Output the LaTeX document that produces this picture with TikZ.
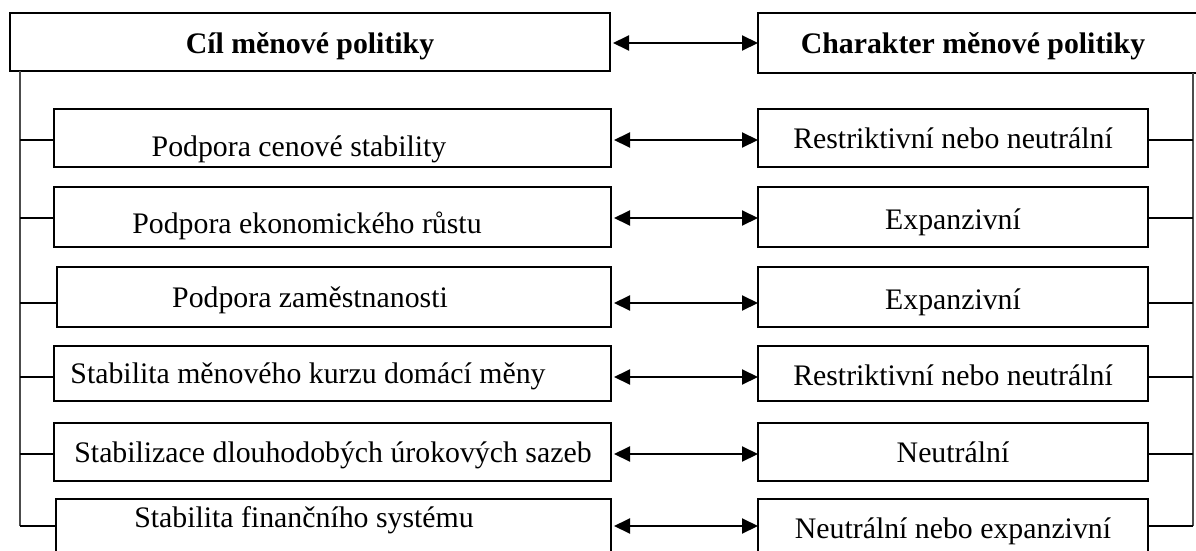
\documentclass[tikz,border=0pt]{standalone}
\usepackage{fontspec}
\setmainfont{Liberation Serif}
\usetikzlibrary{arrows.meta}

\tikzset{
	box/.style={draw, line width=1.2pt, inner sep=0pt, outer sep=0pt},
	tick/.style={line width=1.4pt},
	bracket/.style={draw=black!70, line width=1.3pt},
	twoway/.style={{Triangle[length=16pt,width=15pt]}-{Triangle[length=16pt,width=15pt]}, line width=2pt}
}

\begin{document}
\begin{tikzpicture}[x=1pt,y=-1pt]
	\useasboundingbox (0,0) rectangle (1196,551);
	\clip (0,0) rectangle (1196,551);
	\fontsize{29.8}{36}\selectfont
	% headers
	\node[box, minimum width=600pt, minimum height=58pt] (goalhead) at (310,42) {};
	\node[anchor=base, font=\bfseries] (goalheadtext) at (310,54) {Cíl měnové politiky};
	\node[box, anchor=west, minimum width=480pt, minimum height=60pt] (kindhead) at (758,43) {};
	\node[anchor=base, font=\bfseries] (kindheadtext) at (973,53) {Charakter měnové politiky};
	\draw[twoway, shorten <=3pt] (goalhead.east |- kindhead.west) -- (kindhead.west);
	% brackets
	\coordinate (lefttop) at (20,71);
	\coordinate (leftend) at (20,526);
	\coordinate (righttop) at (1193,73);
	\coordinate (rightend) at (1193,526);
	\draw[bracket] (lefttop) -- (leftend);
	\draw[bracket] (righttop) -- (rightend);
	% rows
	\foreach \i/\x/\top/\bot/\tk/\lx/\lb/\rb/\goal/\kind in {
		1/54/109/167/140/299/156/148/{Podpora cenové stability}/{Restriktivní nebo neutrální},
		2/54/187/247/218/307/233/229/{Podpora ekonomického růstu}/{Expanzivní},
		3/57/267/327/303/310/307/309/{Podpora zaměstnanosti}/{Expanzivní},
		4/54/346/401/377/308/383/385/{Stabilita měnového kurzu domácí měny}/{Restriktivní nebo neutrální},
		5/54/423/481/454/333/462/462/{Stabilizace dlouhodobých úrokových sazeb}/{Neutrální},
		6/56/499/557/526/304/527/538/{Stabilita finančního systému}/{Neutrální nebo expanzivní}} {
		\node[box, anchor=north west, minimum width={(611-\x)*1pt}, minimum height={(\bot-\top)*1pt}] (goal\i) at (\x,\top) {};
		\node[anchor=base] (goaltext\i) at (\lx,\lb) {\goal};
		\node[box, anchor=north west, minimum width=390pt, minimum height={(\bot-\top)*1pt}] (kind\i) at (758,\top) {};
		\node[anchor=base] (kindtext\i) at (953,\rb) {\kind};
		\coordinate (lt\i) at (20,\tk);
		\coordinate (rt\i) at (1193,\tk);
		\draw[tick] (lt\i) -- (lt\i -| goal\i.west);
		\draw[tick] (rt\i) -- (rt\i -| kind\i.east);
		\draw[twoway, shorten <=3pt] (lt\i -| goal\i.east) -- (lt\i -| kind\i.west);
	}
\end{tikzpicture}
\end{document}
